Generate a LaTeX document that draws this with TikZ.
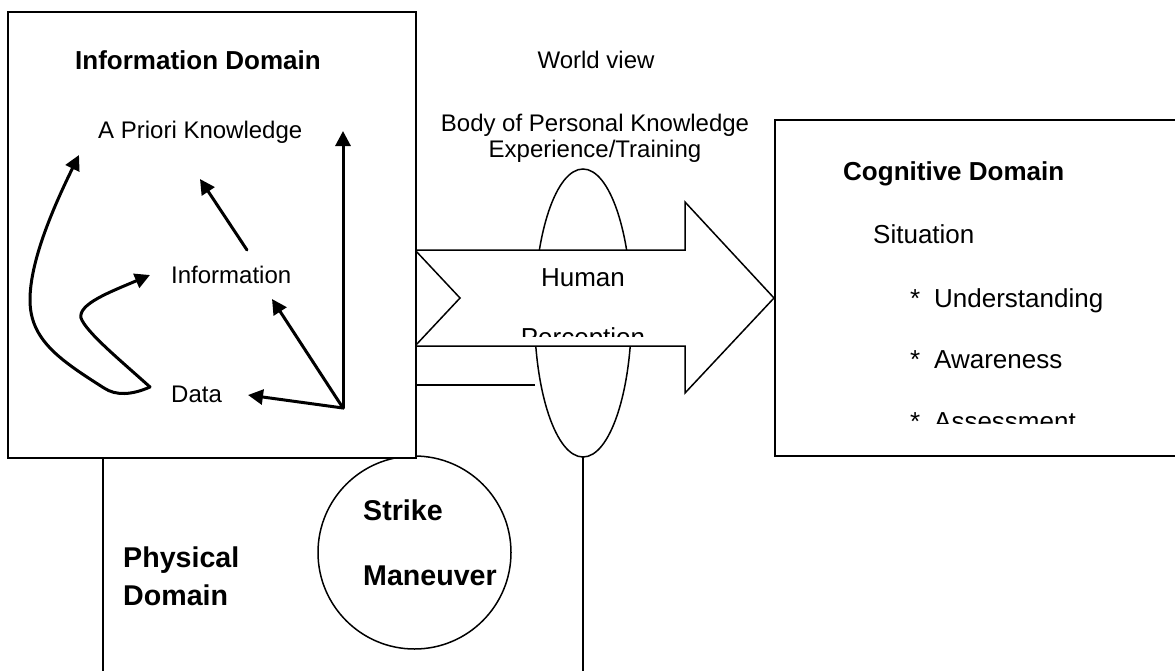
\documentclass[tikz,border=0pt]{standalone}
\usepackage{fontspec}
\setmainfont{Liberation Sans}
\usetikzlibrary{arrows.meta,shapes.geometric}

\tikzset{
  frame/.style={draw, line width=2pt},
  thin frame/.style={draw, line width=1.5pt, fill=white},
  txt/.style={inner sep=0pt, anchor=base west, font=\fontsize{24}{28}\selectfont},
  ctxt/.style={inner sep=0pt, anchor=base, font=\fontsize{24}{28}\selectfont},
  mtxt/.style={inner sep=0pt, font=\fontsize{26}{30}\selectfont},
  title/.style={inner sep=0pt, anchor=base west, font=\bfseries\fontsize{26}{30}\selectfont},
  bigtitle/.style={inner sep=0pt, anchor=base west, font=\bfseries\fontsize{28.6}{34}\selectfont},
  itemtxt/.style={inner sep=0pt, anchor=base west, font=\fontsize{26}{30}\selectfont},
  flow/.style={line width=3pt, line cap=round, line join=round,
               -{Triangle[length=15pt,width=15pt]}},
}

\begin{document}
\begin{tikzpicture}[x=1pt,y=-1pt]
\path[use as bounding box, clip] (0,0) rectangle (1175,670);

% physical domain outline (runs off the bottom)
\draw[frame] (535,385) -- (103,385) -- (103,690);
\draw[frame] (583,457) -- (583,690);

% world-view lens
\node[thin frame, ellipse, minimum width=97pt, minimum height=288pt, inner sep=0pt] (lens) at (583,313) {};

% human perception block arrow
\draw[line width=1.5pt, fill=white, line join=miter]
  (415,250) -- (685,250) -- (685,202) -- (774,298) -- (685,393)
  -- (685,346) -- (415,346) -- (460,298) -- cycle;

% strike / maneuver circle
\node[thin frame, circle, minimum size=193pt, inner sep=0pt] (strike) at (414.5,552.5) {};

% information domain box
\node[frame, fill=white, rectangle, minimum width=408pt, minimum height=446pt,
      inner sep=0pt, anchor=north west] (info) at (7,11) {};

% cognitive domain box (open to the right)
\draw[frame] (1190,120) -- (775,120) -- (775,456) -- (1190,456);

% information domain texts
\node[title] (infotitle) at (75,69) {Information Domain};
\node[txt] (apriori) at (98,138) {A Priori Knowledge};
\node[txt] (information) at (171,283) {Information};
\node[txt] (data) at (171,402) {Data};

% information domain arrows
\coordinate (hub) at (343,408);
\coordinate (dataTip) at (248,395);
\coordinate (infoTip) at (272,299);
\coordinate (topTip) at (343,131);
\coordinate (infoFoot) at (247,250);
\coordinate (aprioriTip) at (200,179);
\coordinate (dataFoot) at (150,387);
\coordinate (infoLeft) at (150,275);
\coordinate (aprioriLeft) at (79,155);

\draw[flow] (hub) -- (dataTip);
\draw[flow] (hub) -- (infoTip);
\draw[flow] (hub) -- (topTip);
\draw[flow] (infoFoot) -- (aprioriTip);
\draw[flow] (dataFoot) .. controls (120,360) and (86,332) .. (81,318)
                       .. controls (78,304) and (110,292) .. (infoLeft);
\draw[flow] (dataFoot) .. controls (132,395) and (116,396) .. (104,388)
                       .. controls (60,360) and (30,340) .. (30,300)
                       .. controls (30,262) and (52,210) .. (aprioriLeft);

% world view texts
\node[ctxt] (world) at (596,68) {World view};
\node[ctxt] (body) at (595,131) {Body of Personal Knowledge};
\node[ctxt] (exper) at (595,157) {Experience/Training};

% perception label
\node[mtxt, anchor=base] (human) at (583,286) {Human};
\begin{scope}
  \clip (480,300) rectangle (690,336.5);
  \node[mtxt, anchor=base] (percep) at (583,346) {Perception};
\end{scope}

% cognitive domain texts
\node[title] (cogtitle) at (843,180) {Cognitive Domain};
\node[mtxt, anchor=base west] (situation) at (873,243) {Situation};
\node[itemtxt] (underst) at (910,307) {\makebox[24pt][l]{*}Understanding};
\node[itemtxt] (aware) at (910,368) {\makebox[24pt][l]{*}Awareness};
\begin{scope}
  \clip (880,390) rectangle (1150,423);
  \node[itemtxt] (assess) at (910,430) {\makebox[24pt][l]{*}Assessment};
\end{scope}

% physical domain texts
\node[bigtitle] (phys1) at (123,567) {Physical};
\node[bigtitle] (phys2) at (123,605) {Domain};
\node[bigtitle] (strike1) at (363,520) {Strike};
\node[bigtitle] (strike2) at (363,585) {Maneuver};
\end{tikzpicture}
\end{document}
